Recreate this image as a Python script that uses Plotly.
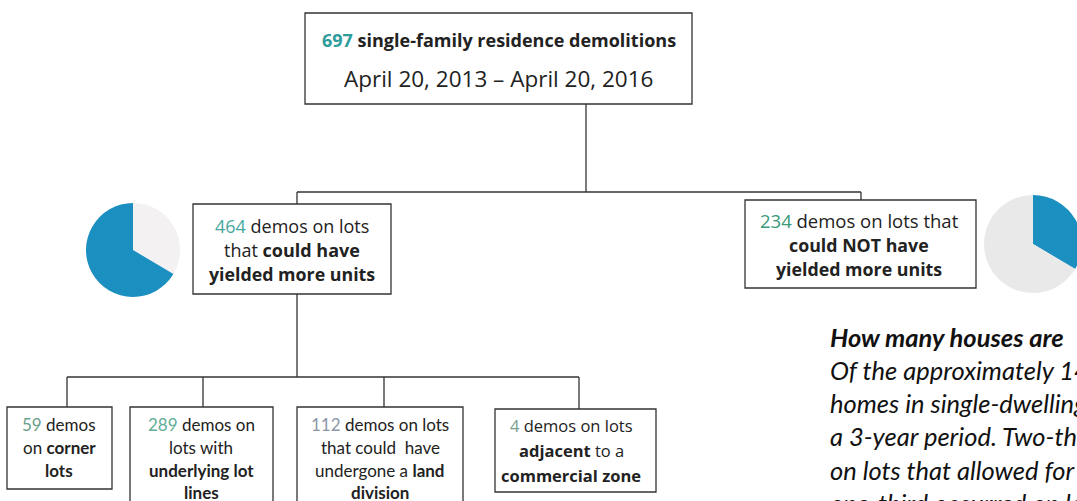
import plotly.graph_objects as go

# ---- data ----
total_demos = 697
could_more = 464
could_not_more = 234
sub_labels = ["corner lots", "underlying lot lines", "land division", "adjacent to commercial zone"]
sub_values = [59, 289, 112, 4]
period = "April 20, 2013 \u2013 April 20, 2016"

W, H = 1120, 501
BLUE = "#1b8fc0"
INK = "#222222"
SEG = "Open Sans"
CAL = "Lato"

fig = go.Figure()

def px_domain(x0, x1, y0, y1):
    return dict(x=[x0 / W, x1 / W], y=[1 - y1 / H, 1 - y0 / H])

# left pie: blue share = could_more, drawn from 4 o'clock round the left side to 12
fig.add_trace(go.Pie(values=[could_not_more, could_more], sort=False, direction="clockwise",
                     marker=dict(colors=["#f3f1f1", BLUE], line=dict(width=0)),
                     textinfo="none", hoverinfo="skip", showlegend=False,
                     domain=px_domain(86, 180, 203, 297)))
# right pie: blue share = could_not_more, from 12 clockwise
fig.add_trace(go.Pie(values=[could_not_more, could_more], sort=False, direction="clockwise",
                     marker=dict(colors=[BLUE, "#e9e9e9"], line=dict(width=0)),
                     textinfo="none", hoverinfo="skip", showlegend=False,
                     domain=px_domain(984, 1082, 195, 293)))

shapes = []
def rect(x0, y0, x1, y1):
    shapes.append(dict(type="rect", xref="x", yref="y", x0=x0, y0=y0, x1=x1, y1=y1,
                       line=dict(color="#333333", width=1.3), fillcolor="rgba(0,0,0,0)"))
def line(x0, y0, x1, y1):
    shapes.append(dict(type="line", xref="x", yref="y", x0=x0, y0=y0, x1=x1, y1=y1,
                       line=dict(color="#333333", width=1.3)))

rect(305, 13, 692, 104)
line(586, 104, 586, 192)
line(297, 192, 861, 192)
line(297, 192, 297, 204)
line(861, 192, 861, 200)
rect(193, 204, 391, 294)
rect(745, 200, 976, 288)
line(297, 294, 297, 377)
line(67, 377, 579, 377)
for xv, yb in [(67, 407), (203, 407), (384, 407), (579, 409)]:
    line(xv, 377, xv, yb)
rect(7, 407, 112, 489)
rect(130, 407, 273, 510)
rect(297, 407, 463, 510)
rect(495, 409, 656, 492)

ann = []
def txt(x, y, s, size, font=SEG, anchor="center"):
    ann.append(dict(x=x, y=y, xref="x", yref="y", text=s, showarrow=False,
                    xanchor=anchor, yanchor="middle",
                    font=dict(family=font, size=size, color=INK)))

def num(v, c):
    return f"<span style='color:{c}'>{v}</span>"

# top box
txt(499, 40, f"<b>{num(total_demos, '#2f9c9c')} single-family residence demolitions</b>", 18)
txt(498, 78, period, 22.5)

# middle boxes
txt(292, 226, f"{num(could_more, '#48a8a0')} demos on lots", 18)
txt(292, 250, "that <b>could have</b>", 18)
txt(292, 274, "<b>yielded more units</b>", 17.8)

txt(859, 220, f"{num(could_not_more, '#3a9a7a')} demos on lots that", 18.5)
txt(859, 245, "<b>could NOT have</b>", 17.8)
txt(859, 269, "<b>yielded more units</b>", 17.8)

# bottom boxes
cols = ["#6a9e8a", "#5fae98", "#8c96a8", "#7aa090"]
b1 = [f"{num(sub_values[0], cols[0])} demos", "on <b>corner</b>", "<b>lots</b>"]
b2 = [f"{num(sub_values[1], cols[1])} demos on", "lots with", "<b>underlying lot</b>", "<b>lines</b>"]
b3 = [f"{num(sub_values[2], cols[2])} demos on lots", "that could  have", "undergone a <b>land</b>", "<b>division</b>"]
for cx, lines_, ys in [(59, b1, [424, 447, 470]), (201, b2, [424, 447, 470, 492]),
                       (380, b3, [424, 447, 470, 492])]:
    for s, y in zip(lines_, ys):
        txt(cx, y, s, 17, font=CAL)
b4 = [f"{num(sub_values[3], cols[3])} demos on lots", "<b>adjacent</b> to a", "<b>commercial zone</b>"]
for s, y in zip(b4, [425, 450, 475]):
    txt(571, y, s, 16.5, font=SEG)

# side text
side = ("<b><i>How many houses are&nbsp;&nbsp;&nbsp; being demolished?</i></b><br>"
        "<i>Of the approximately 148,000 single-family</i><br>"
        "<i>homes in single-dwelling zones, 697 were demolished over</i><br>"
        "<i>a 3-year period. Two-thirds of those demolitions occurred</i><br>"
        "<i>on lots that allowed for more than one unit, while</i><br>"
        "<i>one-third occurred on lots that did not.</i>")
ann.append(dict(x=828, y=320, xref="x", yref="y", text=side, showarrow=False,
                xanchor="left", yanchor="top", align="left",
                font=dict(family=CAL, size=25.5, color="#111111")))

fig.update_layout(width=W, height=H, margin=dict(l=0, r=0, t=0, b=0),
                  paper_bgcolor="white", plot_bgcolor="white",
                  xaxis=dict(range=[0, W], visible=False, fixedrange=True),
                  yaxis=dict(range=[H, 0], visible=False, fixedrange=True),
                  shapes=shapes, annotations=ann)

fig.write_html("out.html", config={"displayModeBar": False},
               post_script="document.body.style.margin='0';document.body.style.overflow='hidden';document.documentElement.style.overflow='hidden';")
